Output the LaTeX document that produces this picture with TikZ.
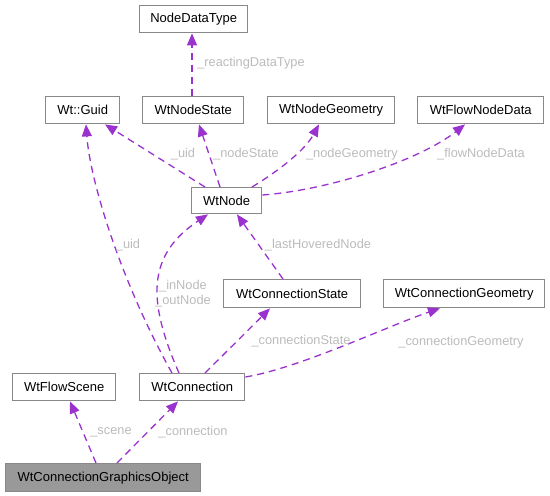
\documentclass[tikz,border=0pt]{standalone}
\usepackage{fontspec}
\setmainfont{Liberation Sans}
\usetikzlibrary{arrows.meta}
\definecolor{edgec}{HTML}{9A32CD}
\definecolor{labc}{HTML}{BBBBBB}
\definecolor{boxc}{HTML}{888888}
\definecolor{fillg}{HTML}{999999}
\tikzset{
  cls/.style={draw=boxc, line width=1.4pt, fill=white, anchor=north west, inner sep=0pt,
    font=\fontsize{13}{15}\selectfont, text=black},
  rel/.style={draw=edgec, line width=1.3pt, dash pattern=on 7pt off 5pt,
    -{Triangle[length=12pt,width=10pt]}, edgec},
  lab/.style={font=\fontsize{12.8}{15}\selectfont, text=labc, inner sep=0pt, align=center}
}
\begin{document}
\begin{tikzpicture}[x=1pt,y=-1pt]
\useasboundingbox (0,0) rectangle (550,496);
% nodes
\node[cls, minimum width=108pt, minimum height=27pt] (ndt) at (139,5) {NodeDataType};
\node[cls, minimum width=74pt, minimum height=27pt] (guid) at (45,96) {Wt::Guid};
\node[cls, minimum width=101pt, minimum height=27pt] (nstate) at (142,96) {WtNodeState};
\node[cls, minimum width=127pt, minimum height=27pt] (ngeom) at (267,96) {WtNodeGeometry};
\node[cls, minimum width=126pt, minimum height=27pt] (fnd) at (417,96) {WtFlowNodeData};
\node[cls, minimum width=70pt, minimum height=26pt] (wtnode) at (191,187) {WtNode};
\node[cls, minimum width=137pt, minimum height=28pt] (cstate) at (223,279) {WtConnectionState};
\node[cls, minimum width=161pt, minimum height=28pt] (cgeom) at (383,279) {WtConnectionGeometry};
\node[cls, minimum width=103pt, minimum height=27pt] (scene) at (12,373) {WtFlowScene};
\node[cls, minimum width=105pt, minimum height=27pt] (conn) at (139,373) {WtConnection};
\node[cls, fill=fillg, minimum width=195pt, minimum height=28pt] (cgo) at (5,463) {WtConnectionGraphicsObject};
% edges
\draw[rel] ([xshift=50pt]nstate.north west) -- ([xshift=53pt]ndt.south west);
\draw[rel] ([xshift=14pt]wtnode.north west) -- ([xshift=60pt]guid.south west);
\draw[rel] ([xshift=29pt]wtnode.north west) -- ([xshift=57pt]nstate.south west);
\draw[rel] ([xshift=61pt]wtnode.north west) .. controls (280,170) and (305,150) .. ([xshift=52pt]ngeom.south west);
\draw[rel] ([yshift=-8pt]wtnode.north east) .. controls (330,190) and (420,160) .. ([xshift=48pt]fnd.south west);
\draw[rel] ([xshift=60pt]cstate.north west) -- ([xshift=46pt]wtnode.south west);
\draw[rel] ([xshift=40pt]conn.north west) .. controls (147,300) and (147,255) .. ([xshift=17pt]wtnode.south west);
\draw[rel] ([xshift=33pt]conn.north west) .. controls (120,280) and (90,180) .. ([xshift=41pt]guid.south west);
\draw[rel] ([xshift=66pt]conn.north west) -- ([xshift=47pt]cstate.south west);
\draw[rel] ([yshift=-4pt]conn.north east) .. controls (300,368) and (390,325) .. ([xshift=57pt]cgeom.south west);
\draw[rel] ([xshift=91pt]cgo.north west) -- ([xshift=58pt]scene.south west);
\draw[rel] ([xshift=112pt]cgo.north west) -- ([xshift=39pt]conn.south west);
% labels
\node[lab] (l1) at (251,63) {\_reactingDataType};
\node[lab] (l2) at (183,154) {\_uid};
\node[lab] (l3) at (246,154) {\_nodeState};
\node[lab] (l4) at (352,154) {\_nodeGeometry};
\node[lab] (l5) at (481,154) {\_flowNodeData};
\node[lab] (l6) at (318,245) {\_lastHoveredNode};
\node[lab] (l7) at (183,293.5) {\_inNode\\\_outNode};
\node[lab] (l8) at (128,245) {\_uid};
\node[lab] (l9) at (301,341) {\_connectionState};
\node[lab] (l10) at (461,342) {\_connectionGeometry};
\node[lab] (l11) at (111,432) {\_scene};
\node[lab] (l12) at (193,432) {\_connection};
\end{tikzpicture}
\end{document}
